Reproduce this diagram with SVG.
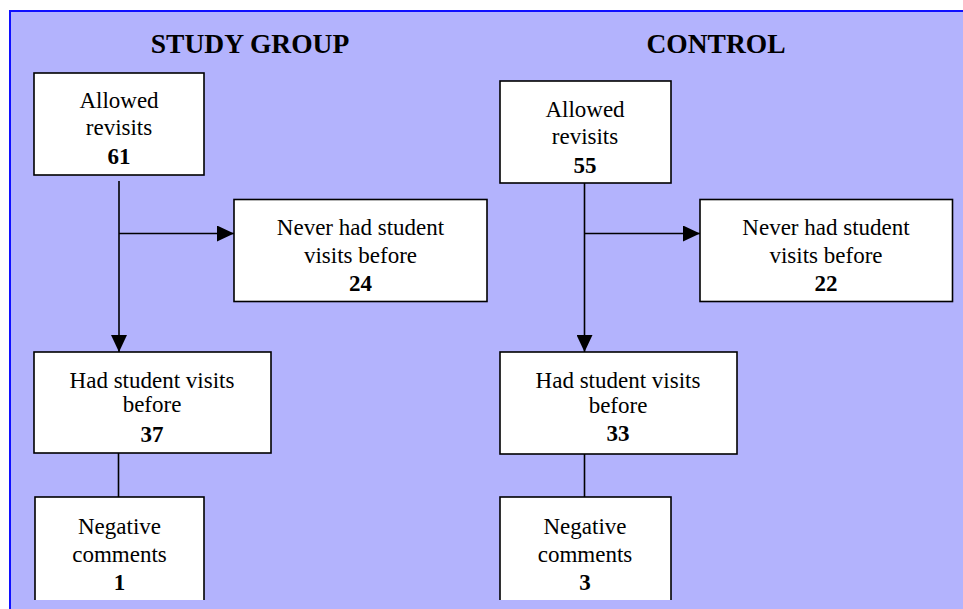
<svg xmlns="http://www.w3.org/2000/svg" width="963" height="609" viewBox="0 0 963 609">
<style>
.box{fill:#fff;stroke:#000;stroke-width:1.6}
.t{font-family:"Liberation Serif","Times New Roman",serif;font-size:23px;fill:#000;text-anchor:middle}
.n{font-weight:bold}
.title{font-family:"Liberation Serif","Times New Roman",serif;font-size:27.5px;font-weight:bold;fill:#000;text-anchor:middle}
.c{stroke:#000;stroke-width:1.6;fill:none}
</style>
<defs>
<marker id="arr" markerUnits="userSpaceOnUse" markerWidth="17" markerHeight="16" refX="17" refY="8" orient="auto">
<path d="M0,0 L17,8 L0,16 z" fill="#000"/>
</marker>
</defs>
<rect x="0" y="0" width="963" height="609" fill="#fff"/>
<rect x="10" y="11" width="953" height="598" fill="#b3b3fd"/>
<path d="M10,609 V11 H963" fill="none" stroke="#1010ff" stroke-width="2"/>
<text class="title" x="250" y="53">STUDY GROUP</text>
<text class="title" x="716" y="53">CONTROL</text>
<g id="connectors">
<line class="c" x1="119" y1="181" x2="119" y2="352" marker-end="url(#arr)"/>
<line class="c" x1="119" y1="233.5" x2="234" y2="233.5" marker-end="url(#arr)"/>
<line class="c" x1="118.5" y1="453" x2="118.5" y2="497"/>
<line class="c" x1="584.5" y1="183" x2="584.5" y2="352" marker-end="url(#arr)"/>
<line class="c" x1="584.5" y1="233.5" x2="700" y2="233.5" marker-end="url(#arr)"/>
<line class="c" x1="584.5" y1="454" x2="584.5" y2="497"/>
</g>
<g id="s_allowed">
<rect class="box" x="34" y="73" width="170" height="102"/>
<text class="t" x="119" y="108">Allowed</text>
<text class="t" x="119" y="135">revisits</text>
<text class="t n" x="119" y="164">61</text>
</g>
<g id="s_never">
<rect class="box" x="234" y="199.5" width="253" height="102"/>
<text class="t" x="360.5" y="235">Never had student</text>
<text class="t" x="360.5" y="262.5">visits before</text>
<text class="t n" x="360.5" y="290.5">24</text>
</g>
<g id="s_had">
<rect class="box" x="34" y="352" width="237" height="101"/>
<text class="t" x="152" y="387.5">Had student visits</text>
<text class="t" x="152" y="412">before</text>
<text class="t n" x="152" y="441.5">37</text>
</g>
<g id="s_neg">
<rect class="box" x="35" y="497" width="169" height="120"/>
<text class="t" x="119.5" y="534">Negative</text>
<text class="t" x="119.5" y="561.5">comments</text>
<text class="t n" x="119.5" y="590">1</text>
</g>
<g id="c_allowed">
<rect class="box" x="500" y="81" width="171" height="102"/>
<text class="t" x="585" y="117">Allowed</text>
<text class="t" x="585" y="144">revisits</text>
<text class="t n" x="585" y="173">55</text>
</g>
<g id="c_never">
<rect class="box" x="700" y="199.5" width="252.5" height="102"/>
<text class="t" x="826" y="235">Never had student</text>
<text class="t" x="826" y="262.5">visits before</text>
<text class="t n" x="826" y="290.5">22</text>
</g>
<g id="c_had">
<rect class="box" x="500" y="352" width="237" height="102"/>
<text class="t" x="618" y="387.5">Had student visits</text>
<text class="t" x="618" y="412.5">before</text>
<text class="t n" x="618" y="441">33</text>
</g>
<g id="c_neg">
<rect class="box" x="500" y="497" width="171" height="120"/>
<text class="t" x="585" y="533.5">Negative</text>
<text class="t" x="585" y="561.5">comments</text>
<text class="t n" x="585" y="589.5">3</text>
</g>
<rect x="10" y="600" width="953" height="9" fill="#b3b3fd"/>
<line x1="10" y1="600" x2="10" y2="609" stroke="#1010ff" stroke-width="2"/>
</svg>
